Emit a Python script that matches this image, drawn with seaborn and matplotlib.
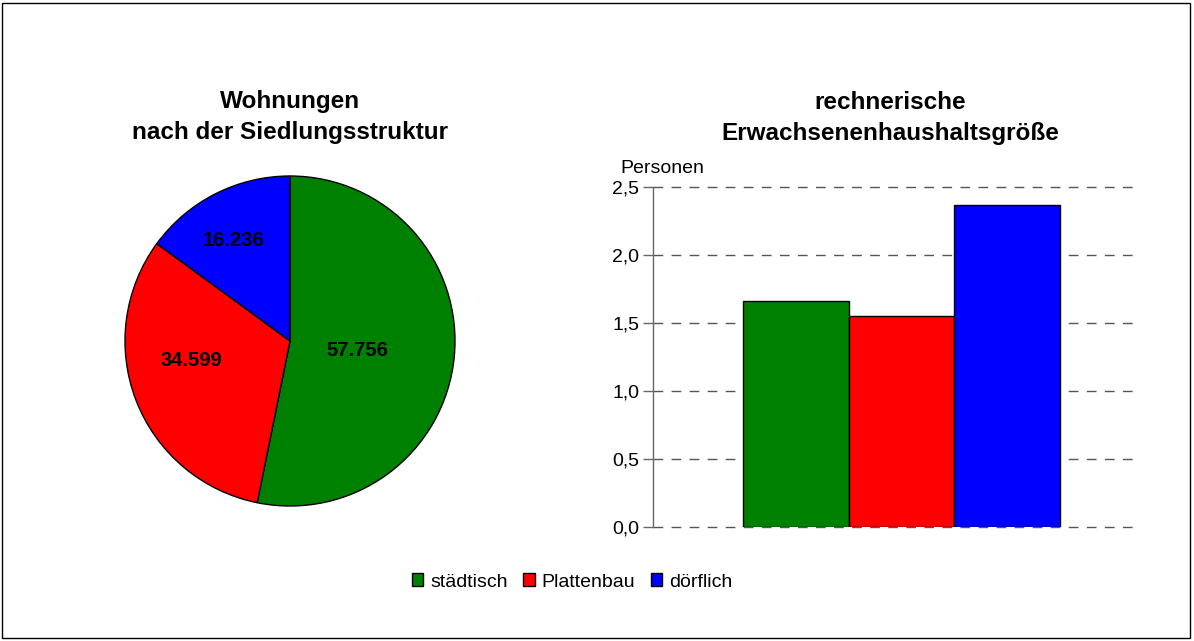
import matplotlib
matplotlib.use('Agg')
import matplotlib.pyplot as plt
from matplotlib.patches import Patch, Rectangle
from matplotlib.ticker import FuncFormatter, MultipleLocator
import seaborn as sns
import numpy as np

# data
categories = ['städtisch', 'Plattenbau', 'dörflich']
wohnungen = [57.756, 34.599, 16.236]
wohnungen_labels = ['57.756', '34.599', '16.236']
haushaltsgroesse = [1.66, 1.555, 2.37]
colors = ['#008000', '#FF0000', '#0000FF']

sns.set_style('white')
plt.rcParams['font.family'] = ['Liberation Sans', 'DejaVu Sans']
plt.rcParams['text.color'] = 'black'
plt.rcParams['ytick.labelcolor'] = 'black'

fig = plt.figure(figsize=(11.94, 6.41), dpi=100)

# outer frame
fig.patches.append(Rectangle((0.002, 0.004), 0.995, 0.992, transform=fig.transFigure,
                             fill=False, edgecolor='black', linewidth=1))

# PIE
ax1 = fig.add_axes([125 / 1194, 135 / 641, 330 / 1194, 330 / 641])
wedges, _ = ax1.pie(wohnungen, colors=colors, startangle=90, counterclock=False,
                    radius=1, wedgeprops=dict(edgecolor='black', linewidth=1))
ax1.set_xlim(-1, 1)
ax1.set_ylim(-1, 1)
ax1.set_aspect('equal')
ax1.axis('off')

# label placement per wedge (Excel-like): radius factor and angle shift
label_r = [0.41, 0.61, 0.70]
label_shift = [-2, -10, 2.5]
for w, lab, r, d in zip(wedges, wohnungen_labels, label_r, label_shift):
    ang = np.deg2rad((w.theta1 + w.theta2) / 2 + d)
    ax1.text(r * np.cos(ang), r * np.sin(ang), lab, ha='center', va='center',
             fontsize=14.5, fontweight='bold', color='black')

fig.text(290 / 1194, 1 - 117 / 641, 'Wohnungen\nnach der Siedlungsstruktur',
         ha='center', va='center', fontsize=17.5, fontweight='bold', linespacing=1.4)

# BAR
ax2 = fig.add_axes([653 / 1194, 114 / 641, 482 / 1194, 340 / 641])
sns.barplot(x=categories, y=haushaltsgroesse, hue=categories, palette=colors,
            saturation=1, width=1, edgecolor='black', linewidth=1, legend=False,
            ax=ax2, zorder=3)
ax2.set_xlim(-1.35, 3.21)
ax2.set_ylim(0, 2.5)
ax2.yaxis.set_major_locator(MultipleLocator(0.5))
ax2.yaxis.set_major_formatter(FuncFormatter(lambda v, p: f'{v:.1f}'.replace('.', ',')))
ax2.set_xticks([])
ax2.set_xlabel('')
ax2.set_ylabel('')
for s in ['top', 'right', 'bottom']:
    ax2.spines[s].set_visible(False)
ax2.spines['left'].set_color('#666666')
ax2.spines['left'].set_linewidth(1)
ax2.tick_params(axis='y', direction='out', length=7, width=1, color='#666666',
                labelsize=14, pad=3, left=True)
for v in np.arange(0, 2.51, 0.5):
    ax2.axhline(v, color='#555555', linewidth=1, linestyle=(0, (7, 6)), zorder=1,
                clip_on=False)
ax2.text(-0.068, 1.03, 'Personen', transform=ax2.transAxes, ha='left', va='bottom',
         fontsize=14)

fig.text(890 / 1194, 1 - 118 / 641, 'rechnerische\nErwachsenenhaushaltsgröße',
         ha='center', va='center', fontsize=17.5, fontweight='bold', linespacing=1.4)

# LEGEND
handles = [Patch(facecolor=c, edgecolor='black', linewidth=1) for c in colors]
fig.legend(handles, categories, loc='center', bbox_to_anchor=(572 / 1194, 1 - 582 / 641),
           ncol=3, frameon=False, fontsize=14, handlelength=0.6, handleheight=0.6,
           handletextpad=0.35, columnspacing=0.8)

fig.savefig('out.png', dpi=100)
